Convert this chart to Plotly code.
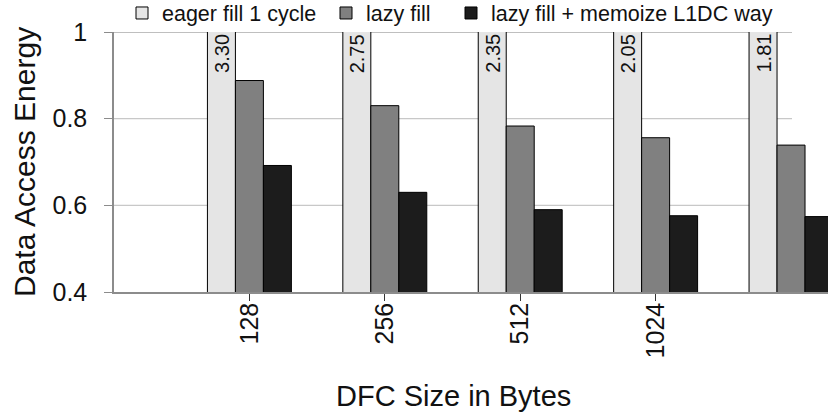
import plotly.graph_objects as go

# ---- data ----
group_index = [0, 1, 2, 3, 4]
eager_fill = [3.30, 2.75, 2.35, 2.05, 1.81]
lazy_fill = [0.888, 0.830, 0.783, 0.756, 0.739]
lazy_memo = [0.692, 0.630, 0.590, 0.576, 0.574]
tick_labels = ["128", "256", "512", "1024"]
y_ticks = [0.4, 0.6, 0.8, 1.0]
y_tick_text = ["0.4", "0.6", "0.8", "1"]
series_names = ["eager fill 1 cycle", "lazy fill", "lazy fill + memoize L1DC way"]
series_colors = ["#e5e5e5", "#808080", "#1c1c1c"]
y_min, y_max = 0.4, 1.0

FONT = "Liberation Sans, Arial, sans-serif"
W, H = 828, 413
ML, MR, MT, MB = 114, 0, 32, 121
PW = W - ML - MR
PH = H - MT - MB

fig = go.Figure()
series_values = [eager_fill, lazy_fill, lazy_memo]
legend_ids = ["legend", "legend2", "legend3"]
for name, vals, col, lg in zip(series_names, series_values, series_colors, legend_ids):
    fig.add_trace(go.Bar(
        x=group_index, y=vals, name=name, legend=lg,
        marker=dict(color=col, line=dict(color="#000000", width=1)),
    ))

# value labels for the clipped eager-fill bars
bar_px = 28
for gi, v in zip(group_index, eager_fill):
    fig.add_annotation(text=f"{v:.2f}", xref="x", yref="y", x=gi, y=y_max,
                       xshift=-bar_px, yshift=0, textangle=-90,
                       xanchor="center", yanchor="top", showarrow=False,
                       font=dict(family=FONT, size=20, color="#111111"))

# grid lines (end before the right edge, like the reference)
grid_end = (792 - ML) / PW
for yv in y_ticks[1:]:
    fig.add_shape(type="line", xref="paper", yref="y", x0=0, x1=grid_end,
                  y0=yv, y1=yv, layer="below",
                  line=dict(color="#c8c8c8" if yv < y_max else "#aaaaaa", width=1.3))

leg_common = dict(orientation="h", xref="container", yref="container",
                  y=1 - 13 / H, xanchor="left", yanchor="middle",
                  font=dict(family=FONT, size=21.5, color="#111111"),
                  bgcolor="rgba(0,0,0,0)")

fig.update_layout(
    width=W, height=H,
    margin=dict(l=ML, r=MR, t=MT, b=MB, pad=0, autoexpand=False),
    plot_bgcolor="white", paper_bgcolor="white",
    barmode="group", bargap=0.38, bargroupgap=0,
    font=dict(family=FONT, color="#111111"),
    showlegend=True,
    legend=dict(x=122 / W, **leg_common),
    legend2=dict(x=326 / W, **leg_common),
    legend3=dict(x=451 / W, **leg_common),
    xaxis=dict(range=[-1.0, 4.273], tickvals=group_index[:len(tick_labels)],
               ticktext=tick_labels, tickangle=-90, ticks="outside",
               ticklen=7, tickwidth=1.3, tickcolor="#333333",
               ticklabelstandoff=-8,
               tickfont=dict(family=FONT, size=25, color="#111111"),
               showgrid=False, zeroline=False, showline=True,
               linecolor="#8c8c8c", linewidth=1.5),
    yaxis=dict(range=[y_min, y_max], tickvals=y_ticks, ticktext=y_tick_text,
               ticks="outside", ticklen=8, tickwidth=1.3, tickcolor="#8c8c8c",
               ticklabelstandoff=12,
               showgrid=False, zeroline=False, showline=True,
               linecolor="#8c8c8c", linewidth=1.5,
               tickfont=dict(family=FONT, size=25, color="#111111")),
)

fig.add_annotation(text="Data Access Energy", xref="paper", yref="paper",
                   x=(24 - ML) / PW, y=0.5, textangle=-90,
                   showarrow=False, xanchor="center", yanchor="middle",
                   font=dict(family=FONT, size=30, color="#111111"))
fig.add_annotation(text="DFC Size in Bytes", xref="paper", yref="paper",
                   x=(453 - ML) / PW, y=(H - MB - 396) / PH,
                   showarrow=False, xanchor="center", yanchor="middle",
                   font=dict(family=FONT, size=29, color="#111111"))

fig.write_html("out.html")
